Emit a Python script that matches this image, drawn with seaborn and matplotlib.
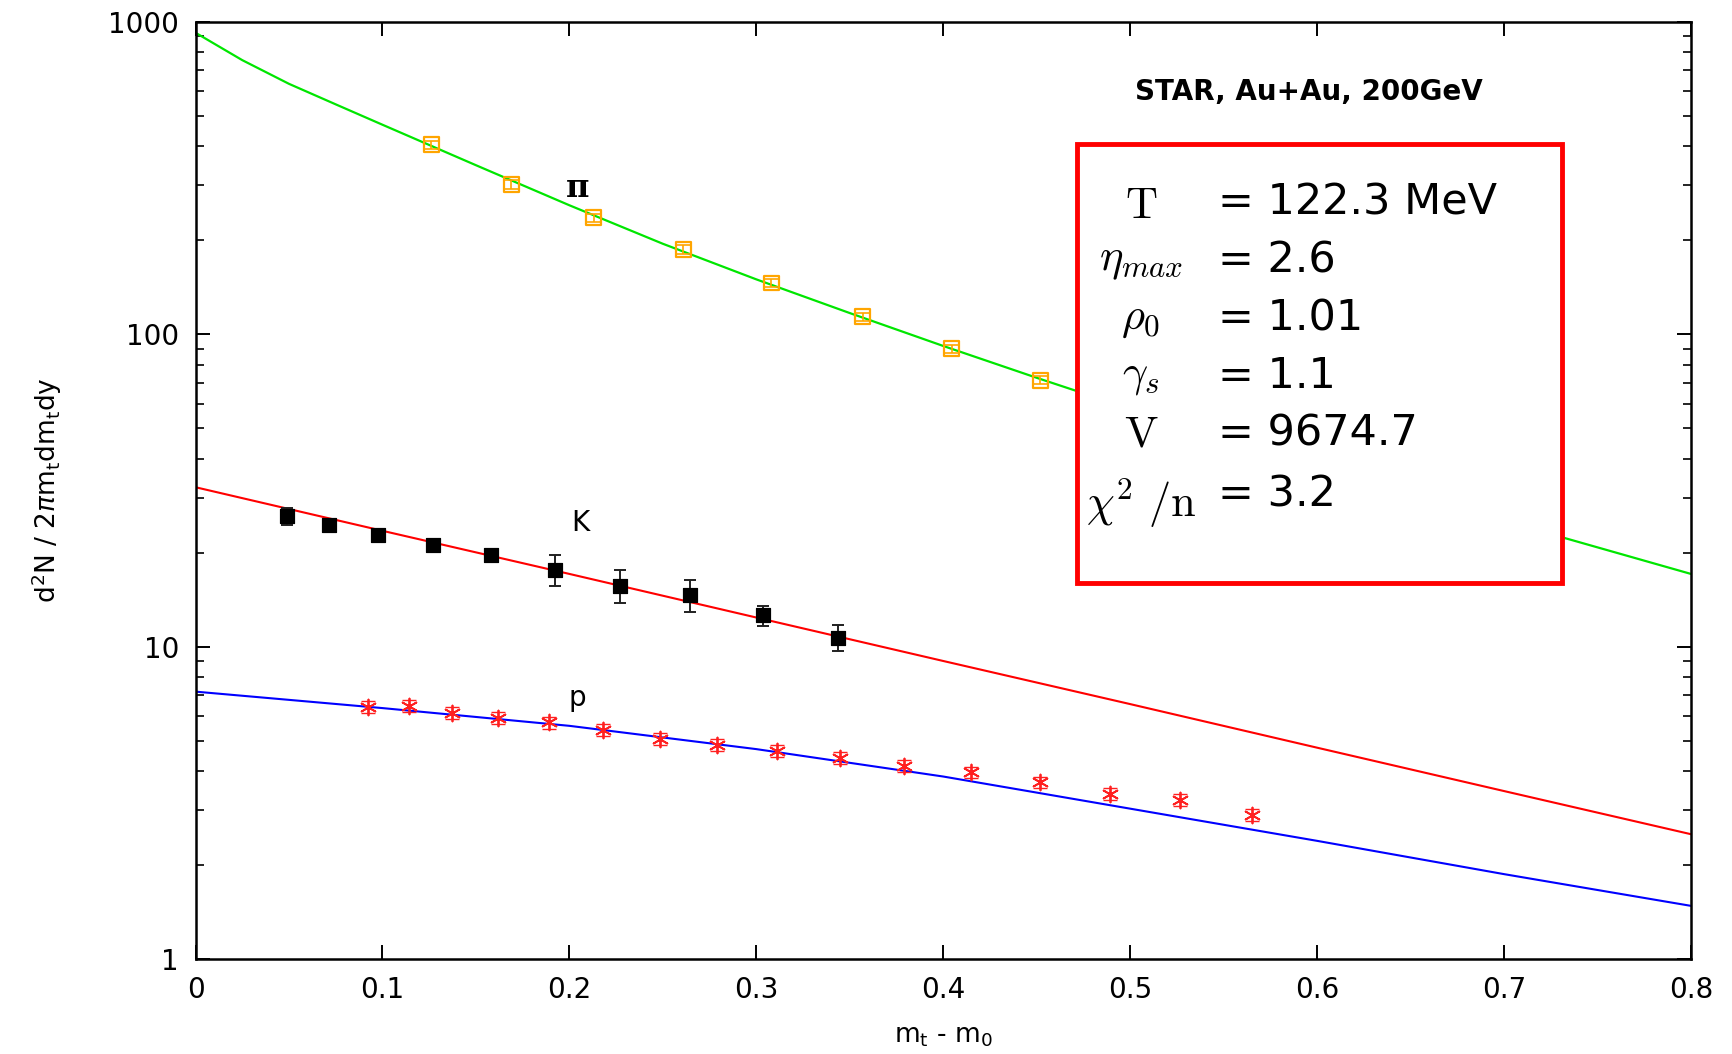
import matplotlib
matplotlib.use("Agg")
import matplotlib.pyplot as plt
from matplotlib.patches import Rectangle
from matplotlib.ticker import FixedLocator, LogLocator, NullFormatter, FuncFormatter
import seaborn as sns

# fit curves
pi_fit_x = [0.0, 0.025, 0.05, 0.075, 0.1, 0.15, 0.2, 0.25, 0.3, 0.35, 0.4, 0.45,
            0.5, 0.55, 0.6, 0.65, 0.7, 0.75, 0.8]
pi_fit_y = [924, 755, 634, 545, 469, 348, 259, 195, 150, 117, 91.8, 72.6,
            57.8, 46.4, 37.7, 30.9, 25.3, 20.8, 17.1]
kp_fit_x = [0.0, 0.1, 0.2, 0.3, 0.4, 0.5, 0.6, 0.7, 0.8]
k_fit_y = [32.4, 23.5, 17.1, 12.4, 9.0, 6.55, 4.75, 3.45, 2.51]
p_fit_y = [7.18, 6.36, 5.58, 4.70, 3.84, 3.03, 2.39, 1.87, 1.48]

# STAR Au+Au 200 GeV points
pi_x = [0.126, 0.169, 0.213, 0.261, 0.308, 0.357, 0.4045, 0.452]
pi_y = [405, 302, 236, 187, 146, 114, 90, 71.4]
pi_err = [12, 9, 7, 5.6, 4.4, 3.4, 2.7, 2.1]

k_x = [0.049, 0.0716, 0.0976, 0.1271, 0.1579, 0.1922, 0.227, 0.2643, 0.3034, 0.3436]
k_y = [26.2, 24.6, 22.7, 21.1, 19.7, 17.6, 15.7, 14.6, 12.6, 10.7]
k_err = [1.7, 0.8, 0.8, 0.8, 0.8, 2.0, 1.85, 1.7, 0.93, 1.0]

p_x = [0.0923, 0.1141, 0.1372, 0.162, 0.1892, 0.2182, 0.2484, 0.2791,
       0.311, 0.3448, 0.379, 0.4151, 0.4518, 0.489, 0.5269, 0.5653]
p_y = [6.41, 6.45, 6.15, 5.91, 5.72, 5.40, 5.06, 4.86,
       4.63, 4.41, 4.16, 3.96, 3.68, 3.37, 3.23, 2.89]
p_err = [0.28, 0.28, 0.27, 0.26, 0.25, 0.24, 0.22, 0.21,
         0.2, 0.19, 0.18, 0.17, 0.16, 0.15, 0.14, 0.13]

x_ticks = [0, 0.1, 0.2, 0.3, 0.4, 0.5, 0.6, 0.7, 0.8]
y_ticks = [1, 10, 100, 1000]

box_symbols = [r"$\mathrm{T}$", r"$\eta_{max}$", r"$\rho_0$", r"$\gamma_s$",
               r"$\mathrm{V}$", r"$\chi^2\ /\mathrm{n}$"]
box_values = ["= 122.3 MeV", "= 2.6", "= 1.01", "= 1.1", "= 9674.7", "= 3.2"]

sns.set_theme(style="ticks")
plt.rcParams["font.family"] = ["DejaVu Sans"]
plt.rcParams["text.color"] = "black"
plt.rcParams["axes.labelcolor"] = "black"
plt.rcParams["xtick.color"] = "black"
plt.rcParams["ytick.color"] = "black"
plt.rcParams["axes.edgecolor"] = "black"

fig = plt.figure(figsize=(17.32, 10.54), dpi=100)
ax = fig.add_axes([0.1129, 0.0901, 0.8634, 0.889])

green = "#00E600"
orange = "#FFA500"
ered = "#FF2020"

sns.lineplot(x=pi_fit_x, y=pi_fit_y, color=green, lw=1.6, ax=ax, zorder=2)
sns.lineplot(x=kp_fit_x, y=k_fit_y, color="#FF0000", lw=1.5, ax=ax, zorder=2)
sns.lineplot(x=kp_fit_x, y=p_fit_y, color="#0000FF", lw=1.5, ax=ax, zorder=2)

# pions: open squares
ax.errorbar(pi_x, pi_y, yerr=pi_err, fmt="none", ecolor=orange, elinewidth=1.2,
            capsize=5, capthick=1.2, zorder=3)
sns.scatterplot(x=pi_x, y=pi_y, marker="s", s=115, facecolor="none",
                edgecolor=orange, linewidth=1.6, ax=ax, zorder=3)

# kaons: filled squares
ax.errorbar(k_x, k_y, yerr=k_err, fmt="none", ecolor="#202020", elinewidth=1.4,
            capsize=4, capthick=1.4, zorder=3)
sns.scatterplot(x=k_x, y=k_y, marker="s", s=115, color="black",
                edgecolor="black", ax=ax, zorder=4)

# protons: asterisks
ax.errorbar(p_x, p_y, yerr=p_err, fmt="none", ecolor=ered, elinewidth=1.0,
            capsize=5, capthick=1.0, zorder=3)
sns.scatterplot(x=p_x, y=p_y, marker=(6, 2, 0), s=130, color=ered,
                edgecolor=ered, linewidth=1.3, ax=ax, zorder=4)

ax.set_yscale("log")
ax.set_xlim(0, 0.8)
ax.set_ylim(1, 1000)
ax.xaxis.set_major_locator(FixedLocator(x_ticks))
ax.xaxis.set_major_formatter(FuncFormatter(lambda v, p: "%g" % v))
ax.yaxis.set_major_locator(FixedLocator(y_ticks))
ax.yaxis.set_major_formatter(FuncFormatter(lambda v, p: "%g" % v))
ax.yaxis.set_minor_locator(LogLocator(base=10, subs=range(2, 10)))
ax.yaxis.set_minor_formatter(NullFormatter())

ax.tick_params(which="both", direction="in", top=True, right=True, color="black")
ax.tick_params(which="major", length=10, width=1.4, labelsize=20, pad=12)
ax.tick_params(which="minor", length=5.5, width=1.2)
for s in ax.spines.values():
    s.set_linewidth(1.8)
    s.set_color("black")

ax.set_xlabel(r"m$_\mathrm{t}$ - m$_\mathrm{0}$", fontsize=19)
ax.xaxis.set_label_coords(0.5, -0.068)
ax.set_ylabel(r"d$^2$N / 2$\pi$m$_\mathrm{t}$dm$_\mathrm{t}$dy", fontsize=19)
ax.yaxis.set_label_coords(-0.088, 0.5)

ax.text(0.2046, 294, "π", fontsize=23, ha="center", va="center",
        family="DejaVu Serif", fontweight="bold")
ax.text(0.2058, 24.8, "K", fontsize=20, ha="center", va="center")
ax.text(0.204, 6.84, "p", fontsize=20, ha="center", va="center")

fig.text(1185 / 1568, 1 - 83 / 954, "STAR, Au+Au, 200GeV", fontsize=20,
         fontweight="bold", ha="center", va="center")

# parameter box
box = Rectangle((975 / 1568, 1 - 528 / 954), (1414 - 975) / 1568, (528 - 130) / 954,
                transform=fig.transFigure, facecolor="white", edgecolor="#FF0000",
                linewidth=3.5, zorder=5, clip_on=False)
ax.add_patch(box)

sym_rows = [186, 236, 288, 340, 393, 455]
val_rows = [183, 236, 288, 340, 392, 448]
for sym, ys in zip(box_symbols, sym_rows):
    fig.text(1033 / 1568, 1 - ys / 954, sym, fontsize=32, ha="center", va="center",
             math_fontfamily="cm", zorder=6)
for val, ys in zip(box_values, val_rows):
    fig.text(1103 / 1568, 1 - ys / 954, val, fontsize=31, ha="left", va="center",
             zorder=6)

fig.savefig("out.png", dpi=100)
